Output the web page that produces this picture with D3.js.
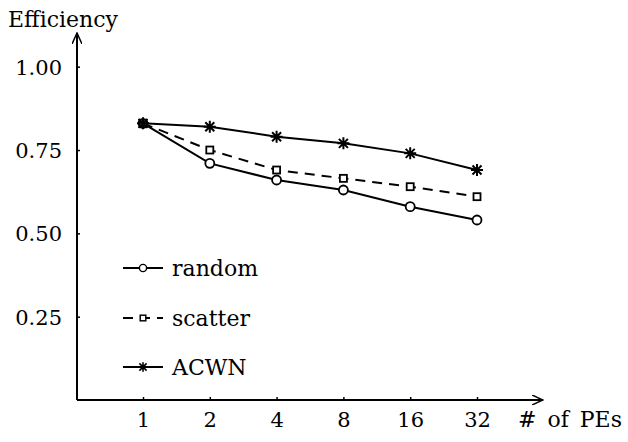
<!DOCTYPE html>
<html>
<head>
<meta charset="utf-8">
<script src="https://cdn.jsdelivr.net/npm/d3@7"></script>
<style>
  body { margin: 0; background: #fff; }
  svg text { font-family: "DejaVu Serif", serif !important; }
</style>
</head>
<body>
<script>
var pes = ["1", "2", "4", "8", "16", "32"];
var random = [0.83, 0.71, 0.66, 0.63, 0.58, 0.54];
var scatter = [0.83, 0.75, 0.69, 0.665, 0.64, 0.61];
var acwn = [0.83, 0.82, 0.79, 0.77, 0.74, 0.69];
var yTicks = [0.25, 0.50, 0.75, 1.00];

var series = [
    { name: "random", values: random, marker: "circle", dash: null },
    { name: "scatter", values: scatter, marker: "square", dash: "10,7" },
    { name: "ACWN", values: acwn, marker: "star", dash: null }
];

var svg = d3.select("body").append("svg")
    .attr("width", 628)
    .attr("height", 442);

var x0 = 77, yBase = 400;

var x = d3.scalePoint()
    .domain(pes)
    .range([143, 477]);

var y = d3.scaleLinear()
    .domain([0, 1])
    .range([yBase, 66.7]);

// assen met pijlen
svg.append("defs").append("marker")
    .attr("id", "arrow")
    .attr("viewBox", "0 0 12 10")
    .attr("refX", 11).attr("refY", 5)
    .attr("markerWidth", 12).attr("markerHeight", 10)
    .attr("markerUnits", "userSpaceOnUse")
    .attr("orient", "auto")
    .append("path")
    .attr("d", "M0,0 L11,5 L0,10")
    .attr("fill", "none")
    .attr("stroke", "#000")
    .attr("stroke-width", 1.5);

svg.append("line")
    .attr("x1", x0).attr("y1", yBase)
    .attr("x2", 543).attr("y2", yBase)
    .attr("stroke", "#000").attr("stroke-width", 2)
    .attr("marker-end", "url(#arrow)");

svg.append("line")
    .attr("x1", x0).attr("y1", yBase)
    .attr("x2", x0).attr("y2", 33)
    .attr("stroke", "#000").attr("stroke-width", 2)
    .attr("marker-end", "url(#arrow)");

// x ticks
var xg = svg.append("g").attr("transform", "translate(0," + yBase + ")")
    .call(d3.axisBottom(x).tickSize(0).tickPadding(0));
xg.select(".domain").remove();
xg.selectAll(".tick line").remove();
xg.selectAll(".tick").append("line")
    .attr("y1", 0).attr("y2", -3)
    .attr("stroke", "#000").attr("stroke-width", 1.5);
xg.selectAll(".tick text")
    .attr("y", 27).attr("dy", null)
    .attr("font-size", 21);

// y ticks
var yg = svg.append("g").attr("transform", "translate(" + x0 + ",0)")
    .call(d3.axisLeft(y).tickValues(yTicks).tickFormat(d3.format(".2f")).tickSize(0));
yg.select(".domain").remove();
yg.selectAll(".tick line").remove();
yg.selectAll(".tick").append("line")
    .attr("x1", 0).attr("x2", 3)
    .attr("stroke", "#000").attr("stroke-width", 1.5);
yg.selectAll(".tick text")
    .attr("x", -15).attr("dy", "0.36em")
    .attr("font-size", 21);

svg.append("text")
    .attr("x", 8).attr("y", 27)
    .attr("font-size", 22)
    .text("Efficiency");

svg.append("text")
    .attr("x", 518).attr("y", 427)
    .attr("font-size", 22)
    .style("word-spacing", "4px")
    .text("# of PEs");

function drawMarker(g, type) {
    if (type === "circle") {
        g.append("circle").attr("r", 4.5)
            .attr("fill", "#fff").attr("stroke", "#000").attr("stroke-width", 1.8);
    } else if (type === "square") {
        g.append("rect").attr("x", -3.5).attr("y", -3.5)
            .attr("width", 7).attr("height", 7)
            .attr("fill", "#fff").attr("stroke", "#000").attr("stroke-width", 1.8);
    } else {
        var r = 6;
        g.append("path")
            .attr("d", "M" + -r + ",0L" + r + ",0M0," + -r + "L0," + r +
                "M" + -r * 0.75 + "," + -r * 0.75 + "L" + r * 0.75 + "," + r * 0.75 +
                "M" + -r * 0.75 + "," + r * 0.75 + "L" + r * 0.75 + "," + -r * 0.75)
            .attr("stroke", "#000").attr("stroke-width", 2);
    }
}

var line = d3.line()
    .x(function (d, i) { return x(pes[i]); })
    .y(function (d) { return y(d); });

series.forEach(function (s) {
    svg.append("path")
        .attr("d", line(s.values))
        .attr("fill", "none")
        .attr("stroke", "#000")
        .attr("stroke-width", 2)
        .attr("stroke-dasharray", s.dash);
    s.values.forEach(function (v, i) {
        var g = svg.append("g")
            .attr("transform", "translate(" + x(pes[i]) + "," + y(v) + ")");
        drawMarker(g, s.marker);
    });
});

// legenda
var legY = [268, 318, 367];
series.forEach(function (s, i) {
    var g = svg.append("g").attr("transform", "translate(0," + legY[i] + ")");
    g.append("line")
        .attr("x1", 123).attr("x2", 163)
        .attr("stroke", "#000").attr("stroke-width", 2)
        .attr("stroke-dasharray", s.dash);
    var m = g.append("g").attr("transform", "translate(143,0) scale(0.8)");
    drawMarker(m, s.marker);
    g.append("text")
        .attr("x", 172).attr("dy", "0.36em")
        .attr("font-size", 22)
        .text(s.name);
});
</script>
</body>
</html>
